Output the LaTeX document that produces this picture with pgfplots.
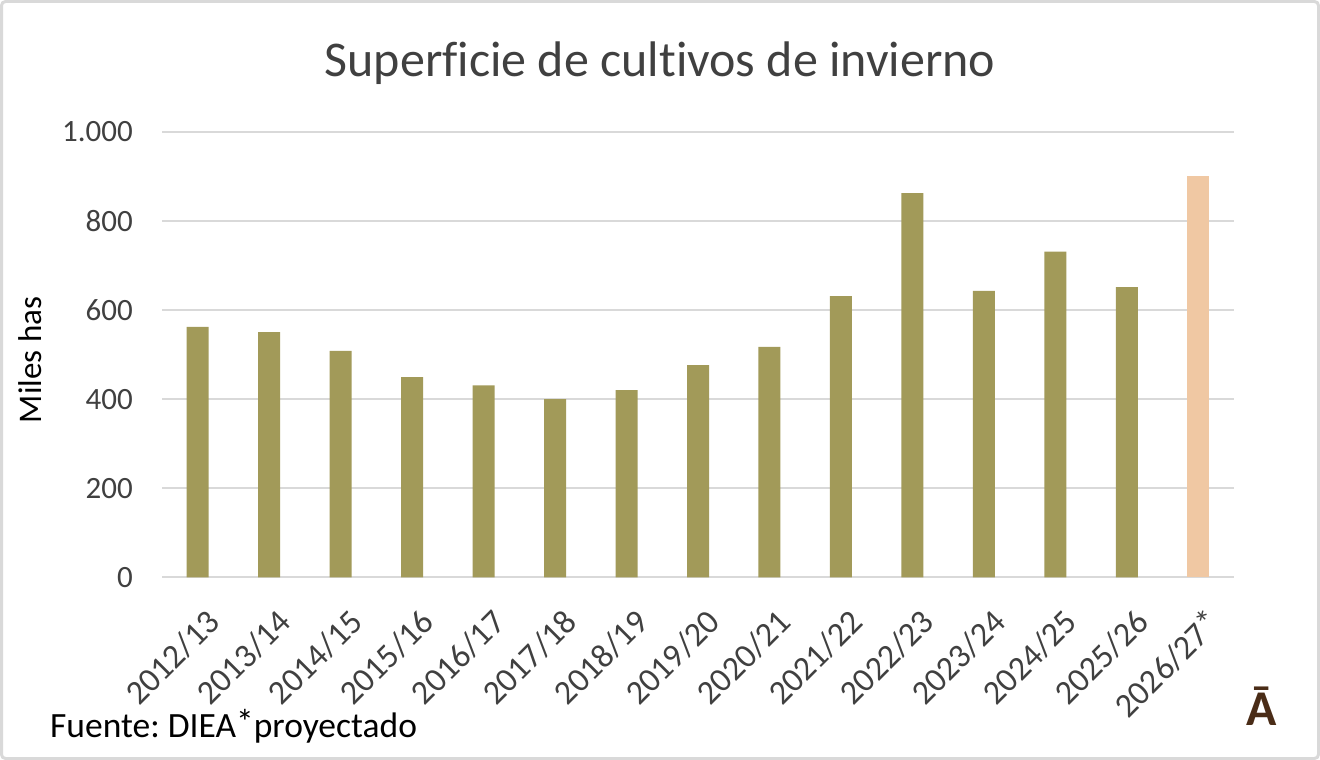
\documentclass[border=0pt]{standalone}
\usepackage{pgfplots}
\pgfplotsset{compat=1.18}
\usepackage{fontspec}
\setmainfont{Carlito}[Ligatures={NoCommon}]
\frenchspacing
\definecolor{barolive}{HTML}{A29A59}
\definecolor{barpeach}{HTML}{F0C8A3}
\definecolor{gridgray}{HTML}{D9D9D9}
\definecolor{txtgray}{HTML}{404040}
\definecolor{logobrown}{HTML}{4A2C17}
\newcommand{\rast}{\raisebox{0.12ex}{*}}
\begin{document}
\begin{tikzpicture}
\useasboundingbox (0pt,0pt) rectangle (1320pt,-760pt);
\draw[gridgray, line width=3pt, rounded corners=4pt] (1.5pt,-1.5pt) rectangle (1318.5pt,-758.5pt);
\begin{axis}[
  at={(162pt,-577.3pt)}, anchor=south west,
  scale only axis, width=1072pt, height=445.6pt,
  xmin=-0.5, xmax=14.5, ymin=0, ymax=1000,
  ytick={0,200,400,600,800,1000},
  xtick={0,...,14},
  xticklabels={2012/13,2013/14,2014/15,2015/16,2016/17,2017/18,2018/19,2019/20,2020/21,2021/22,2022/23,2023/24,2024/25,2025/26,2026/27\rast},
  axis line style={draw=none},
  major tick length=0pt,
  ymajorgrids,
  grid style={gridgray, line width=2pt},
  ticklabel style={font=\fontsize{31}{37}\selectfont, text=txtgray},
  yticklabel style={anchor=east, inner sep=0pt, xshift=-29pt},
  xticklabel style={font=\fontsize{34}{40}\selectfont, xshift=16pt, yshift=-39pt, rotate=45, anchor=east, inner sep=0pt},
  /pgf/number format/1000 sep={.},
  /pgf/number format/assume math mode=true,
  clip=false,
]
\addplot[ybar, bar width=22pt, bar shift=0pt, fill=barolive, draw=none] coordinates {(0,562) (1,550) (2,508) (3,449) (4,431) (5,400) (6,420) (7,476) (8,517) (9,631) (10,862) (11,643) (12,731) (13,651)};
\addplot[ybar, bar width=22pt, bar shift=0pt, fill=barpeach, draw=none] coordinates {(14,900)};
\end{axis}
\node[anchor=base, inner sep=0pt, font=\fontsize{50}{60}\selectfont, text=txtgray] at (660pt,-77pt) {Superficie de cultivos de invierno};
\node[rotate=90, anchor=center, inner sep=0pt, font=\fontsize{33}{40}\selectfont] at (30pt,-360pt) {Miles has};
\node[anchor=base west, inner sep=0pt, font=\fontsize{35.5}{42}\selectfont] at (50pt,-737pt) {Fuente: DIEA\rast proyectado};
\node[anchor=base, inner sep=0pt, font=\fontsize{50}{60}\selectfont\bfseries, text=logobrown] at (1262pt,-725pt) {Ā};
\end{tikzpicture}
\end{document}
